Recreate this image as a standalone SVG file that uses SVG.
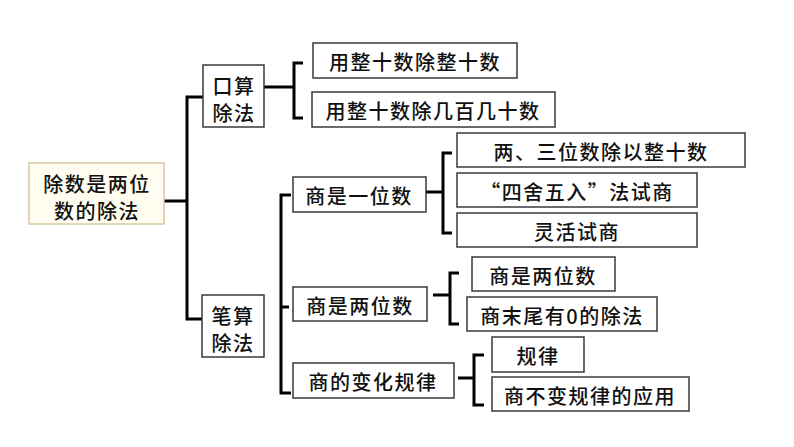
<svg xmlns="http://www.w3.org/2000/svg" width="794" height="447" viewBox="0 0 794 447">
<style>
.b{fill:#fff;stroke:#3a3a3a;stroke-width:1.5}
.r{fill:#fffdf0;stroke:#d8c8a0;stroke-width:1.5}
text{font-family:"Noto Sans CJK SC","Noto Sans",sans-serif;font-size:20px;fill:#111;text-anchor:middle;dominant-baseline:central;letter-spacing:1.5px;font-weight:500}
.c{fill:none;stroke:#000;stroke-width:3}
</style>
<rect width="794" height="447" fill="#fff"/>
<g id="connectors">
<path class="c" d="M164 201H187M203 97H187V319H202"/>
<path class="c" d="M264 87H294M303 63H294V118H303"/>
<path class="c" d="M291 195H281V393H291M281 307H289"/>
<path class="c" d="M426 192H443M452 153H443V233H452"/>
<path class="c" d="M433 295H450M459 273H450V324H459"/>
<path class="c" d="M458 378H474M484 355H474V405H484"/>
</g>
<g id="root"><rect class="r" x="29" y="163" width="135" height="61"/><text x="97" y="183">除数是两位</text><text x="97" y="210">数的除法</text></g>
<g id="kousuan"><rect class="b" x="203" y="65" width="61" height="62"/><text x="234" y="85">口算</text><text x="234" y="112">除法</text></g>
<g id="bisuan"><rect class="b" x="202" y="295" width="62" height="62"/><text x="233" y="315">笔算</text><text x="233" y="342">除法</text></g>
<g id="k1"><rect class="b" x="313" y="43" width="204" height="35"/><text x="415" y="61">用整十数除整十数</text></g>
<g id="k2"><rect class="b" x="312" y="92" width="243" height="35"/><text x="433" y="110">用整十数除几百几十数</text></g>
<g id="s1"><rect class="b" x="293" y="177" width="133" height="35"/><text x="359" y="195">商是一位数</text></g>
<g id="s2"><rect class="b" x="293" y="287" width="134" height="34"/><text x="360" y="305">商是两位数</text></g>
<g id="s3"><rect class="b" x="293" y="363" width="161" height="35"/><text x="373" y="381">商的变化规律</text></g>
<g id="a1"><rect class="b" x="457" y="133" width="288" height="34"/><text x="601" y="151">两、三位数除以整十数</text></g>
<g id="a2"><rect class="b" x="457" y="173" width="240" height="34"/><text x="577" y="191">“四舍五入”法试商</text></g>
<g id="a3"><rect class="b" x="457" y="213" width="240" height="34"/><text x="577" y="231">灵活试商</text></g>
<g id="b1"><rect class="b" x="472" y="257" width="143" height="34"/><text x="543" y="275">商是两位数</text></g>
<g id="b2"><rect class="b" x="467" y="297" width="190" height="34"/><text x="562" y="315">商末尾有0的除法</text></g>
<g id="c1"><rect class="b" x="492" y="337" width="92" height="35"/><text x="538" y="355">规律</text></g>
<g id="c2"><rect class="b" x="492" y="377" width="197" height="34"/><text x="590" y="395">商不变规律的应用</text></g>
</svg>
